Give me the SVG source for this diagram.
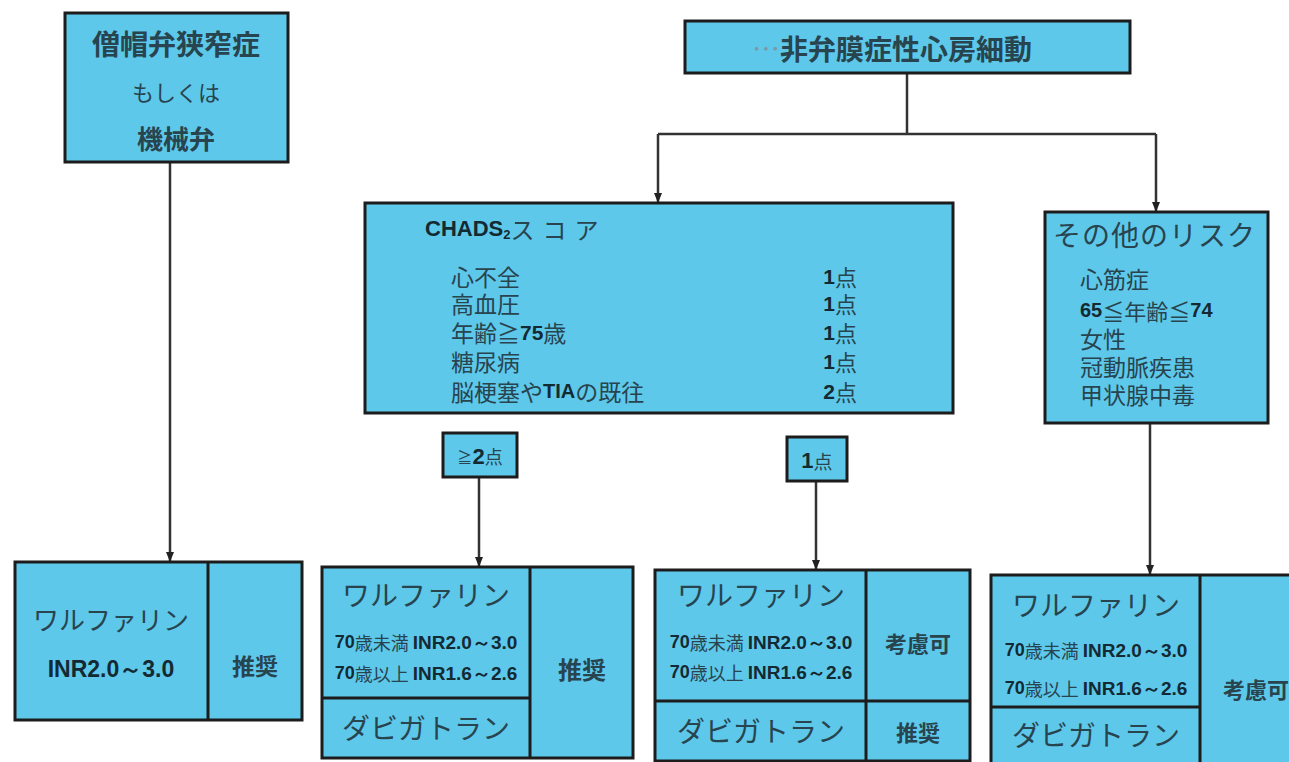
<svg xmlns="http://www.w3.org/2000/svg" width="1289" height="762" viewBox="0 0 1289 762">
<defs>
<marker id="arr" markerUnits="userSpaceOnUse" markerWidth="10" markerHeight="8" refX="9" refY="4" orient="auto">
<path d="M0,0 L10,4 L0,8 z" fill="#222"/>
</marker>
<style>
.box{fill:#5ec8ea;stroke:#1c1c1c;stroke-width:3}
.div{stroke:#1c1c1c;stroke-width:3;fill:none}
.jp{font-family:"Noto Sans CJK JP","Noto Sans",sans-serif;fill:#27444f}
.c{text-anchor:middle;dominant-baseline:central}
.l{text-anchor:start;dominant-baseline:central}
.r{text-anchor:end;dominant-baseline:central}
.b{font-family:"Liberation Sans","DejaVu Sans",sans-serif;font-weight:bold;fill:#142a33}
.con{stroke:#333;stroke-width:2.5;fill:none}
</style>
</defs>
<rect width="1289" height="762" fill="#ffffff"/>

<g id="connectors">
<path class="con" d="M170,162 V561" marker-end="url(#arr)"/>
<path class="con" d="M907,73 V134"/>
<path class="con" d="M658,134 H1156"/>
<path class="con" d="M658,134 V202" marker-end="url(#arr)"/>
<path class="con" d="M1156,134 V211" marker-end="url(#arr)"/>
<path class="con" d="M479,477 V566" marker-end="url(#arr)"/>
<path class="con" d="M816,481 V569" marker-end="url(#arr)"/>
<path class="con" d="M1150,423 V574" marker-end="url(#arr)"/>
</g>

<g id="mitral">
<rect class="box" x="65" y="13" width="223" height="149"/>
<text class="jp c" x="176" y="43" font-size="28" font-weight="bold">僧帽弁狭窄症</text>
<text class="jp c" x="176" y="91" font-size="22">もしくは</text>
<text class="jp c" x="176" y="137" font-size="26" font-weight="bold">機械弁</text>
</g>

<g id="nvaf">
<rect class="box" x="685" y="21" width="445" height="52"/>
<text class="jp l" x="752" y="48" font-size="28" font-weight="bold"><tspan fill="#7a9aa6" font-weight="normal">…</tspan>非弁膜症性心房細動</text>
</g>

<g id="chads">
<rect class="box" x="365" y="203" width="588" height="210"/>
<text class="l" x="425" y="228"><tspan class="b" font-size="22">CHADS</tspan><tspan class="b" font-size="13" dy="6">2</tspan><tspan class="jp" font-size="24" dy="-6" letter-spacing="8">スコア</tspan></text>
<text class="jp l" x="451" y="276" font-size="23">心不全</text>
<text class="jp l" x="451" y="303" font-size="23">高血圧</text>
<text class="l" x="451" y="332"><tspan class="jp" font-size="23">年齢≧</tspan><tspan class="b" font-size="21">75</tspan><tspan class="jp" font-size="23">歳</tspan></text>
<text class="jp l" x="451" y="361" font-size="23">糖尿病</text>
<text class="l" x="451" y="391"><tspan class="jp" font-size="23">脳梗塞や</tspan><tspan class="b" font-size="20">TIA</tspan><tspan class="jp" font-size="23">の既往</tspan></text>
<text class="r" x="857" y="276"><tspan class="b" font-size="21">1</tspan><tspan class="jp" font-size="22">点</tspan></text>
<text class="r" x="857" y="303"><tspan class="b" font-size="21">1</tspan><tspan class="jp" font-size="22">点</tspan></text>
<text class="r" x="857" y="332"><tspan class="b" font-size="21">1</tspan><tspan class="jp" font-size="22">点</tspan></text>
<text class="r" x="857" y="361"><tspan class="b" font-size="21">1</tspan><tspan class="jp" font-size="22">点</tspan></text>
<text class="r" x="857" y="391"><tspan class="b" font-size="21">2</tspan><tspan class="jp" font-size="22">点</tspan></text>
</g>

<g id="other-risk">
<rect class="box" x="1045" y="212" width="223" height="211"/>
<text class="jp l" x="1053" y="234" font-size="28" letter-spacing="1">その他のリスク</text>
<text class="jp l" x="1080" y="278" font-size="23">心筋症</text>
<text class="l" x="1080" y="310"><tspan class="b" font-size="20">65</tspan><tspan class="jp" font-size="22">≦年齢≦</tspan><tspan class="b" font-size="20">74</tspan></text>
<text class="jp l" x="1080" y="338" font-size="23">女性</text>
<text class="jp l" x="1080" y="366" font-size="23">冠動脈疾患</text>
<text class="jp l" x="1080" y="394" font-size="23">甲状腺中毒</text>
</g>

<g id="score2">
<rect class="box" x="443" y="433" width="74" height="44"/>
<text class="c" x="480" y="456"><tspan class="jp" font-size="15">≧</tspan><tspan class="b" font-size="22">2</tspan><tspan class="jp" font-size="18">点</tspan></text>
</g>

<g id="score1">
<rect class="box" x="787" y="437" width="60" height="44"/>
<text class="c" x="817" y="460"><tspan class="b" font-size="22">1</tspan><tspan class="jp" font-size="19">点</tspan></text>
</g>

<g id="rx-mitral">
<rect class="box" x="15" y="562" width="287" height="158"/>
<line class="div" x1="208" y1="562" x2="208" y2="720"/>
<text class="jp c" x="111" y="618" font-size="26">ワルファリン</text>
<text class="b c" x="111" y="669" font-size="23">INR2.0～3.0</text>
<text class="jp c" x="255" y="665" font-size="23" font-weight="bold">推奨</text>
</g>

<g id="rx-score2">
<rect class="box" x="322" y="567" width="311" height="191"/>
<line class="div" x1="530" y1="567" x2="530" y2="758"/>
<line class="div" x1="322" y1="698" x2="530" y2="698"/>
<text class="jp c" x="426" y="594" font-size="28">ワルファリン</text>
<text class="c" x="426" y="642"><tspan class="b" font-size="18">70</tspan><tspan class="jp" font-size="18">歳未満 </tspan><tspan class="b" font-size="19">INR2.0～3.0</tspan></text>
<text class="c" x="426" y="673"><tspan class="b" font-size="18">70</tspan><tspan class="jp" font-size="18">歳以上 </tspan><tspan class="b" font-size="19">INR1.6～2.6</tspan></text>
<text class="jp c" x="426" y="727" font-size="28">ダビガトラン</text>
<text class="jp c" x="582" y="668" font-size="24" font-weight="bold">推奨</text>
</g>

<g id="rx-score1">
<rect class="box" x="655" y="570" width="315" height="191"/>
<line class="div" x1="866" y1="570" x2="866" y2="761"/>
<line class="div" x1="655" y1="701" x2="970" y2="701"/>
<text class="jp c" x="761" y="594" font-size="28">ワルファリン</text>
<text class="c" x="761" y="642"><tspan class="b" font-size="18">70</tspan><tspan class="jp" font-size="18">歳未満 </tspan><tspan class="b" font-size="19">INR2.0～3.0</tspan></text>
<text class="c" x="761" y="672"><tspan class="b" font-size="18">70</tspan><tspan class="jp" font-size="18">歳以上 </tspan><tspan class="b" font-size="19">INR1.6～2.6</tspan></text>
<text class="jp c" x="761" y="730" font-size="28">ダビガトラン</text>
<text class="jp c" x="918" y="642" font-size="22" font-weight="bold">考慮可</text>
<text class="jp c" x="918" y="731" font-size="22" font-weight="bold">推奨</text>
</g>

<g id="rx-other">
<rect class="box" x="991" y="575" width="320" height="200"/>
<line class="div" x1="1200" y1="575" x2="1200" y2="775"/>
<line class="div" x1="991" y1="707" x2="1200" y2="707"/>
<text class="jp c" x="1096" y="604" font-size="28">ワルファリン</text>
<text class="c" x="1096" y="650"><tspan class="b" font-size="18">70</tspan><tspan class="jp" font-size="18">歳未満 </tspan><tspan class="b" font-size="19">INR2.0～3.0</tspan></text>
<text class="c" x="1096" y="688"><tspan class="b" font-size="18">70</tspan><tspan class="jp" font-size="18">歳以上 </tspan><tspan class="b" font-size="19">INR1.6～2.6</tspan></text>
<text class="jp c" x="1096" y="734" font-size="28">ダビガトラン</text>
<text class="jp c" x="1256" y="688" font-size="22" font-weight="bold">考慮可</text>
</g>
</svg>
